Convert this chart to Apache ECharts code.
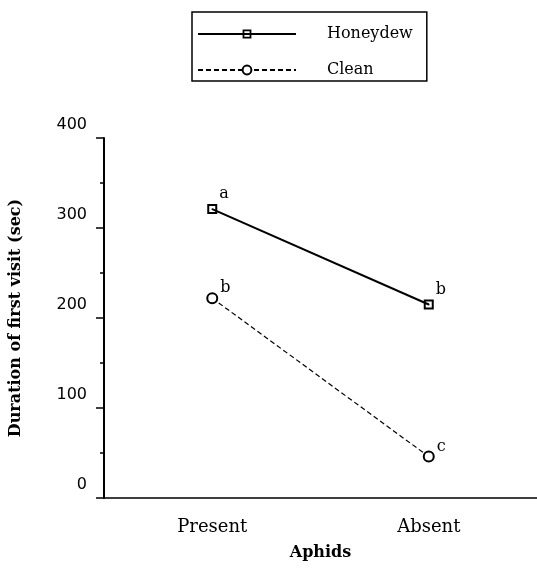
<!DOCTYPE html>
<html>
<head>
<meta charset="utf-8">
<script src="https://cdn.jsdelivr.net/npm/echarts@6/dist/echarts.min.js"></script>
<style>html,body{margin:0;padding:0;background:#fff}#c{width:537px;height:568px}</style>
</head>
<body>
<div id="c"></div>
<script>
const categories = ['Present', 'Absent'];
const honeydew = [321, 215];
const clean = [222, 46];
const honeydewLetters = ['a', 'b'];
const cleanLetters = ['b', 'c'];
const yTicks = [0, 100, 200, 300, 400];

const squareDot = 'path://M0,0H10V10H0Z M2,2V8H8V2Z M4.3,4.3H5.7V5.7H4.3Z';

const chart = echarts.init(document.getElementById('c'), null, {renderer: 'canvas'});
const serif = 'DejaVu Serif';
const option = {
  animation: false,
  backgroundColor: '#fff',
  legend: {
    orient: 'vertical',
    left: 192, top: 12,
    padding: [14, 14, 3, 5],
    borderColor: '#000', borderWidth: 1.5,
    itemWidth: 98, itemHeight: 11, itemGap: 20,
    textStyle: {fontFamily: serif, fontSize: 16, color: '#000', padding: [0, 0, 0, 26]},
    data: ['Honeydew', 'Clean']
  },
  grid: {left: 102, top: 138, right: 0, bottom: 70},
  xAxis: [{
    type: 'category', data: categories, boundaryGap: true,
    axisLine: {lineStyle: {color: '#000', width: 1.5}},
    axisTick: {alignWithLabel: true, length: 9, lineStyle: {color: '#000', width: 1.5}},
    axisLabel: {fontFamily: serif, fontSize: 18, color: '#000', margin: 20},
    name: 'Aphids', nameLocation: 'middle', nameGap: 47,
    nameTextStyle: {fontFamily: serif, fontWeight: 'bold', fontSize: 16, color: '#000'}
  }, {
    type: 'category', data: categories, boundaryGap: true, position: 'bottom',
    axisLine: {show: false},
    axisTick: {length: 5, lineStyle: {color: '#000', width: 1.5}},
    axisLabel: {show: false}
  }],
  yAxis: {
    type: 'value', min: yTicks[0], max: yTicks[yTicks.length - 1], interval: 100,
    axisLine: {show: true, lineStyle: {color: '#000', width: 2}},
    axisTick: {show: true, length: 8, lineStyle: {color: '#000', width: 1.5}},
    minorTick: {show: true, splitNumber: 2, length: 4, lineStyle: {color: '#000', width: 1.5}},
    splitLine: {show: false},
    axisLabel: {fontFamily: 'DejaVu Sans', fontSize: 16, color: '#000', margin: 17,
      verticalAlign: 'bottom', padding: [0, 0, 5, 0]},
    name: 'Duration of first visit (sec)', nameLocation: 'middle', nameGap: 80,
    nameTextStyle: {fontFamily: serif, fontWeight: 'bold', fontSize: 16, color: '#000'}
  },
  series: [{
    name: 'Honeydew', type: 'line', data: honeydew,
    symbol: squareDot, symbolSize: 10,
    itemStyle: {color: '#000'},
    lineStyle: {color: '#000', width: 2},
    label: {show: true, position: 'right', distance: 2, offset: [0, -15],
      formatter: p => honeydewLetters[p.dataIndex],
      fontFamily: serif, fontSize: 16, color: '#000'}
  }, {
    name: 'Clean', type: 'line', data: clean,
    symbol: 'emptyCircle', symbolSize: 10,
    itemStyle: {color: '#000', borderWidth: 1.3},
    lineStyle: {color: '#000', width: 1.2, type: [5, 3]},
    label: {show: true, position: 'right', distance: 2, offset: [0, -10],
      formatter: p => cleanLetters[p.dataIndex],
      fontFamily: serif, fontSize: 16, color: '#000'}
  }]
};
chart.setOption(option);
</script>
</body>
</html>
